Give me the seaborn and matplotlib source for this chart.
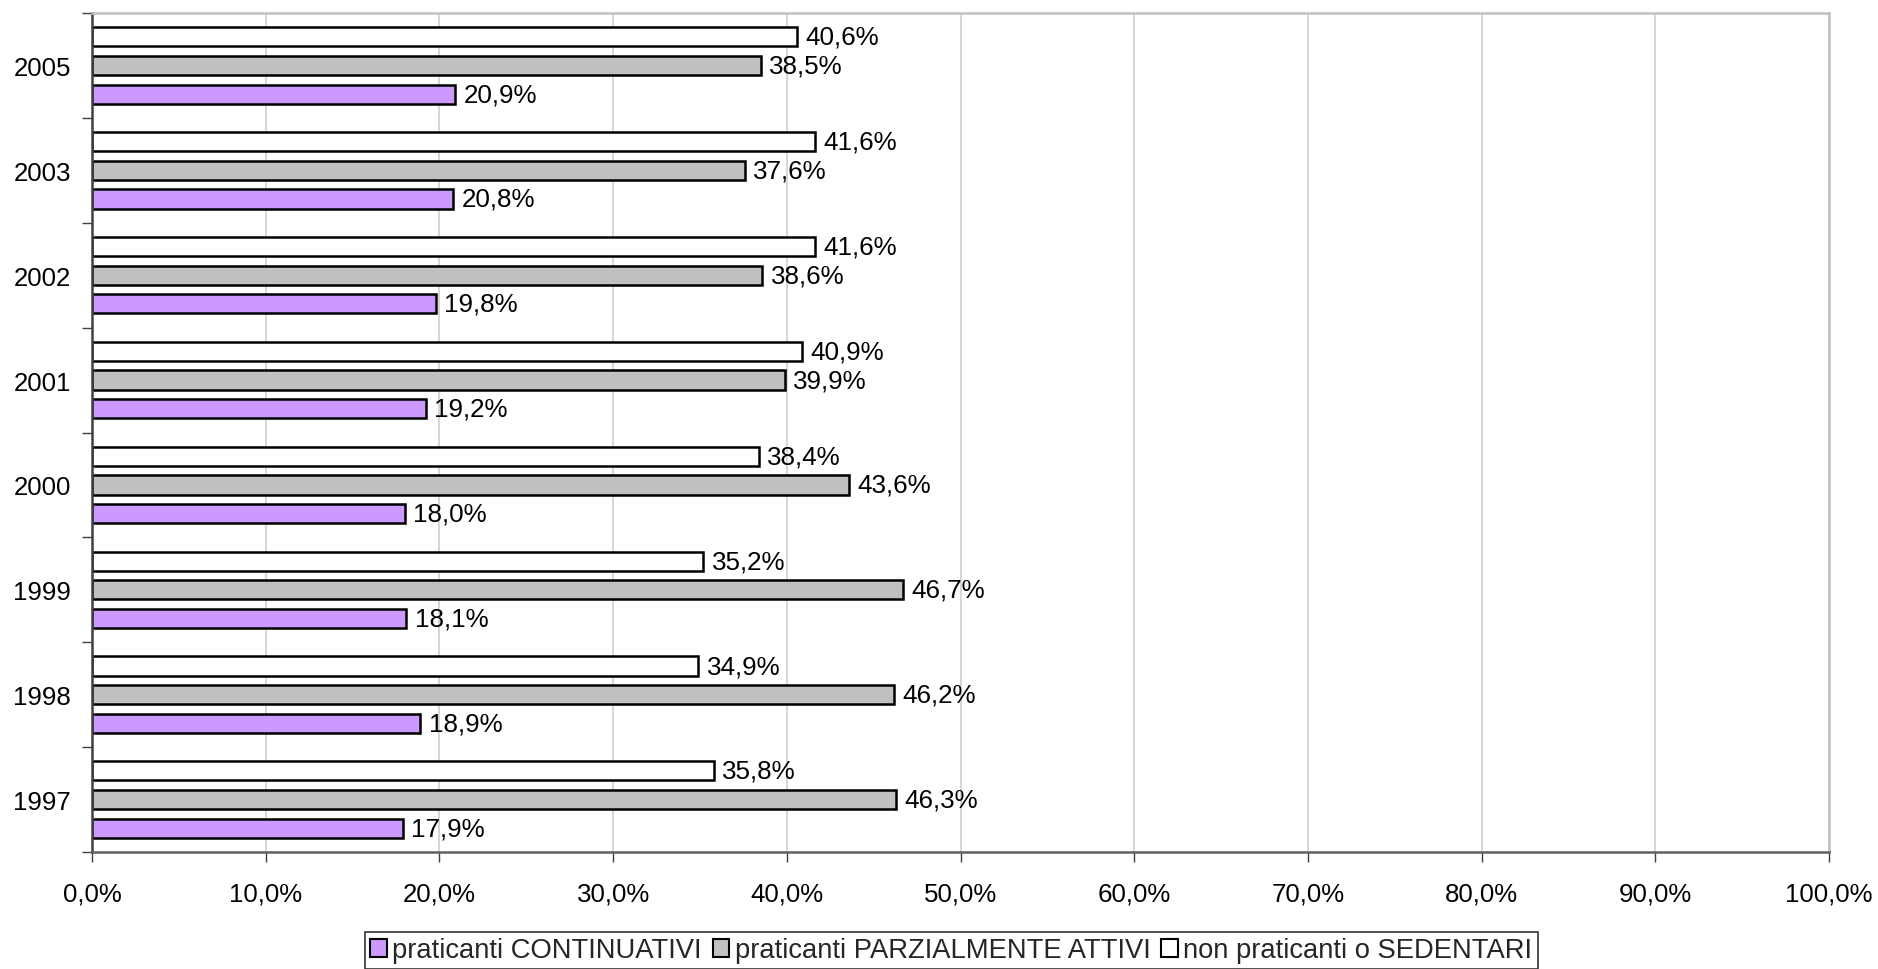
import matplotlib
matplotlib.use("Agg")
import matplotlib.pyplot as plt
import seaborn as sns
import pandas as pd
import numpy as np
from matplotlib.patches import Patch
from matplotlib.ticker import FixedLocator, FuncFormatter

years = ["2005", "2003", "2002", "2001", "2000", "1999", "1998", "1997"]
continuativi = [20.9, 20.8, 19.8, 19.2, 18.0, 18.1, 18.9, 17.9]
parziali = [38.5, 37.6, 38.6, 39.9, 43.6, 46.7, 46.2, 46.3]
sedentari = [40.6, 41.6, 41.6, 40.9, 38.4, 35.2, 34.9, 35.8]

s_cont = "praticanti CONTINUATIVI"
s_parz = "praticanti PARZIALMENTE ATTIVI"
s_sed = "non praticanti o SEDENTARI"
colors = {s_cont: "#CC99FF", s_parz: "#C0C0C0", s_sed: "#FFFFFF"}

df = pd.DataFrame({
    "anno": years * 3,
    "serie": [s_cont] * 8 + [s_parz] * 8 + [s_sed] * 8,
    "valore": continuativi + parziali + sedentari,
})

sns.set_theme(style="white")
plt.rcParams["font.family"] = ["Liberation Sans", "DejaVu Sans"]

fig = plt.figure(figsize=(18.78, 9.70), dpi=100)
ax = fig.add_axes([92 / 1878, 1 - 853 / 970, (1829 - 92) / 1878, (853 - 14) / 970])

sns.barplot(data=df, y="anno", x="valore", hue="serie", order=years,
            hue_order=[s_sed, s_parz, s_cont], palette=colors,
            orient="h", width=0.82, gap=0.33, edgecolor="black",
            linewidth=1.8, saturation=1, ax=ax, legend=False, errorbar=None)

for cont in ax.containers:
    labels = [f"{v:.1f}%".replace(".", ",") for v in cont.datavalues]
    ax.bar_label(cont, labels=labels, padding=6, fontsize=18.7, color="black")

ax.set_xlim(0, 100)
ax.set_ylim(7.5, -0.5)
ax.set_xticks(np.arange(0, 101, 10))
ax.xaxis.set_major_formatter(FuncFormatter(lambda v, p: f"{v:.1f}%".replace(".", ",")))
ax.grid(axis="x", color="#D0D0D0", linewidth=1.2)
ax.set_axisbelow(True)
ax.set_xlabel("")
ax.set_ylabel("")

ax.yaxis.set_minor_locator(FixedLocator(np.arange(-0.5, 8.0, 1.0)))
ax.tick_params(axis="y", which="major", length=0, pad=15, labelsize=18.6, labelcolor="black")
ax.tick_params(axis="y", which="minor", left=True, length=7, width=1, color="#404040", direction="out")
ax.tick_params(axis="x", which="major", bottom=True, length=7, width=1, color="#404040",
               direction="out", pad=14, labelsize=18.6, labelcolor="black")

for side in ["top", "right"]:
    ax.spines[side].set_color("#C0C0C0")
    ax.spines[side].set_linewidth(1.8)
ax.spines["left"].set_color("#404040")
ax.spines["left"].set_linewidth(1.8)
ax.spines["bottom"].set_color("#606060")
ax.spines["bottom"].set_linewidth(1.8)

handles = [Patch(facecolor=colors[s], edgecolor="black", linewidth=1.5, label=s)
           for s in [s_cont, s_parz, s_sed]]
leg = fig.legend(handles=handles, loc="upper left", bbox_to_anchor=(365 / 1878, 1 - 933 / 970),
                 ncol=3, frameon=True, fontsize=19.7, handlelength=0.6, handleheight=0.6,
                 handletextpad=0.2, columnspacing=0.4, borderpad=0.2, fancybox=False,
                 borderaxespad=0)
leg.get_frame().set_edgecolor("black")
leg.get_frame().set_linewidth(1.2)

fig.savefig("out.png", dpi=100)
